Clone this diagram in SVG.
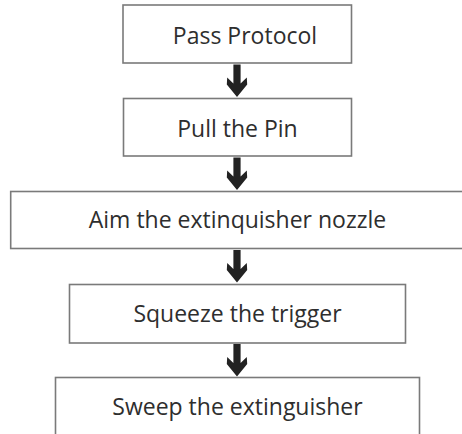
<svg xmlns="http://www.w3.org/2000/svg" width="462" height="434" viewBox="0 0 462 434">
<style>
.box{fill:#fff;stroke:#7a7a7a;stroke-width:1.6}
.lbl{font-family:"Open Sans","Noto Sans",sans-serif;font-size:23px;fill:#2e2e2e;text-anchor:middle}
.arr{fill:#222}
</style>
<defs>
<path id="arrow" d="M-3.6,0 H3.6 V19 L9.8,13 L10.2,20 L0,32.5 L-10.2,20 L-9.8,13 L-3.6,19 Z"/>
</defs>
<rect width="462" height="434" fill="#fff"/>
<g id="n1"><rect class="box" x="123" y="5" width="228.5" height="58"/><text class="lbl" x="245" y="44.3">Pass Protocol</text></g>
<g id="n2"><rect class="box" x="123.5" y="98.5" width="228" height="57.5"/><text class="lbl" x="237.5" y="136.7">Pull the Pin</text></g>
<g id="n3"><rect class="box" x="10.7" y="191.5" width="460" height="57"/><text class="lbl" x="237.5" y="227.7">Aim the extinquisher nozzle</text></g>
<g id="n4"><rect class="box" x="69.5" y="284.5" width="336" height="58.5"/><text class="lbl" x="237.5" y="321.7">Squeeze the trigger</text></g>
<g id="n5"><rect class="box" x="55.5" y="377.5" width="364" height="70"/><text class="lbl" x="237.5" y="415">Sweep the extinguisher</text></g>
<g id="connectors">
<use href="#arrow" class="arr" x="237" y="64.5"/>
<use href="#arrow" class="arr" x="237" y="157.5"/>
<use href="#arrow" class="arr" x="237" y="250"/>
<use href="#arrow" class="arr" x="237" y="344"/>
</g>
</svg>
